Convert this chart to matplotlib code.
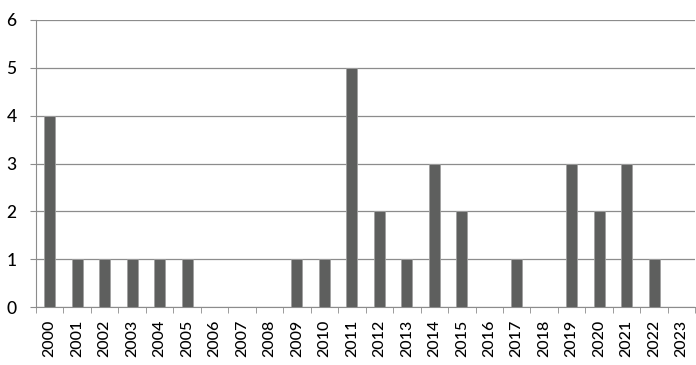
import matplotlib
matplotlib.use("Agg")
import matplotlib.pyplot as plt
import numpy as np

years = [str(y) for y in range(2000, 2024)]
counts = [4, 1, 1, 1, 1, 1, 0, 0, 0, 1, 1, 5, 2, 1, 3, 2, 0, 1, 0, 3, 2, 3, 1, 0]

plt.rcParams["font.family"] = ["Lato", "DejaVu Sans"]

fig = plt.figure(figsize=(6.96, 3.65), dpi=100)
ax = fig.add_axes([36 / 696, (365 - 307) / 365, 1 - 36 / 696 - 0.001, (307 - 20) / 365])

x = np.arange(len(years))
ax.bar(x, counts, width=0.4, color="#5e5f5e", edgecolor="#a0a0a0", linewidth=0.6, zorder=3)

ax.set_xlim(-0.5, len(years) - 0.5)
ax.set_ylim(0, 6)
ax.set_yticks(range(7))
ax.yaxis.grid(True, color="#8c8c8c", linewidth=0.9, zorder=0)

ax.set_xticks(x)
ax.set_xticklabels(years, rotation=90, fontsize=11.5, fontweight="medium")
ax.set_xticks(np.arange(-0.5, len(years), 1), minor=True)
ax.tick_params(axis="x", which="major", length=0, pad=9)
ax.tick_params(axis="x", which="minor", length=4, color="#8c8c8c", direction="out")
ax.tick_params(axis="y", length=4, color="#8c8c8c", labelsize=12.5, pad=10)
for lbl in ax.get_yticklabels():
    lbl.set_fontweight("medium")

for s in ["top", "right"]:
    ax.spines[s].set_visible(False)
ax.spines["left"].set_color("#8c8c8c")
ax.spines["bottom"].set_color("#8c8c8c")

fig.savefig("out.png", dpi=100)
